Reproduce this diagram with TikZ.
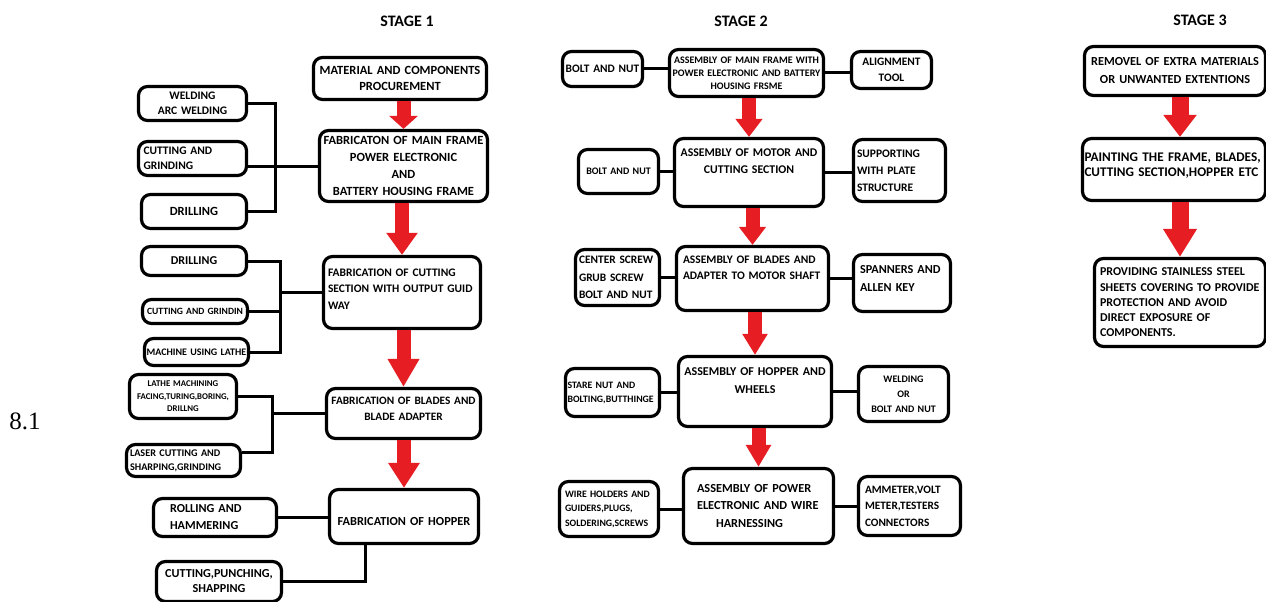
\documentclass[tikz,border=0pt]{standalone}
\usepackage{fontspec}
\setmainfont{Carlito}
\newfontfamily\numfont{Liberation Serif}
\usetikzlibrary{arrows.meta}
\definecolor{arrowred}{RGB}{230,30,36}
\newcommand{\lift}[1]{\\[#1]\mbox{}}
\newcommand{\fs}[2]{\bfseries\fontsize{#1}{#2}\selectfont}
\tikzset{
  stepbox/.style={draw, line width=3.2pt, rounded corners=9pt, inner xsep=2pt, inner ysep=1pt},
  pad/.style={align=left, execute at begin node={\leftskip=#1\relax}},
  link/.style={line width=3pt},
  flow/.style={draw=arrowred, line width=14pt},
  stagelabel/.style={font=\fs{16}{16}}
}

\begin{document}
\begin{tikzpicture}[x=1pt, y=-1pt]
\useasboundingbox (0,0) rectangle (1266,602);

% stage titles
\node[stagelabel] (stage1) at (407,21) {STAGE 1};
\node[stagelabel] (stage2) at (741,21) {STAGE 2};
\node[stagelabel] (stage3) at (1200,20) {STAGE 3};
\node[font=\numfont\fontsize{25}{25}\selectfont] (secnum) at (25,421) {8.1};

% stage 1: main steps
\node[stepbox, font=\fs{12.5}{16.5}, minimum width=173pt, minimum height=42pt, text width=169pt, align=center] (mat) at (400,78.5) {MATERIAL AND COMPONENTS\\PROCUREMENT};
\node[stepbox, font=\fs{12.5}{17}, minimum width=164pt, minimum height=71pt, text width=164pt, align=center] (fab1) at (403.5,166) {FABRICATON OF MAIN FRAME\\POWER ELECTRONIC\\AND\\BATTERY HOUSING FRAME};
\node[stepbox, font=\fs{11.5}{16.5}, pad=2.5pt, minimum width=157pt, minimum height=72pt, text width=153pt] (fab2) at (402,292.5) {FABRICATION OF CUTTING\\SECTION WITH OUTPUT GUID\\WAY\lift{-9pt}};
\node[stepbox, font=\fs{11.3}{16}, minimum width=154pt, minimum height=50pt, text width=150pt, align=center] (fab3) at (403.5,413.5) {FABRICATION OF BLADES AND\\BLADE ADAPTER\lift{-7pt}};
\node[stepbox, font=\fs{12.3}{15}, minimum width=149pt, minimum height=54pt, text width=145pt, align=center] (hop1) at (404,516.5) {\mbox{}\\[4pt]FABRICATION OF HOPPER};

% stage 1: tools
\node[stepbox, font=\fs{11.5}{14.5}, minimum width=108pt, minimum height=34pt, text width=104pt, align=center] (weld) at (192.5,103.5) {WELDING\\ARC WELDING};
\node[stepbox, font=\fs{11.5}{15}, pad=3pt, minimum width=108pt, minimum height=34pt, text width=104pt] (cutg) at (192.5,158.5) {CUTTING AND\\GRINDING};
\node[stepbox, font=\fs{12.5}{16}, minimum width=105pt, minimum height=34pt, text width=101pt, align=center] (drill1) at (194,211.5) {DRILLING};
\node[stepbox, font=\fs{12}{14}, minimum width=105pt, minimum height=29pt, text width=101pt, align=center] (drill2) at (194,261) {DRILLING};
\node[stepbox, font=\fs{9.6}{12}, minimum width=103pt, minimum height=24pt, text width=101pt, align=center] (cutg2) at (195,311.5) {CUTTING AND GRINDIN};
\node[stepbox, font=\fs{10}{12}, minimum width=100pt, minimum height=27pt, text width=100pt, align=center] (lathe1) at (196.5,352) {MACHINE USING LATHE};
\node[stepbox, font=\fs{8.8}{12.5}, minimum width=107pt, minimum height=44pt, text width=103pt, align=center] (lathe2) at (183,396.5) {LATHE MACHINING\\FACING,TURING,BORING,\\DRILLNG};
\node[stepbox, font=\fs{10.2}{14}, pad=1.5pt, minimum width=114pt, minimum height=32pt, text width=110pt] (laser) at (183.5,460.5) {LASER CUTTING AND\\SHARPING,GRINDING};
\node[stepbox, font=\fs{12.2}{17}, pad=14.5pt, minimum width=123pt, minimum height=38pt, text width=119pt] (roll) at (215,517.5) {ROLLING AND\\HAMMERING};
\node[stepbox, font=\fs{12.2}{15}, minimum width=125pt, minimum height=40pt, text width=121pt, align=center] (cps) at (219,581.5) {CUTTING,PUNCHING,\\SHAPPING};

\coordinate (j1) at (275,0);
\coordinate (j2) at (280,0);
\coordinate (j3) at (272,0);

\draw[flow, -{Triangle[length=13pt,width=28pt]}] (mat.south -| fab1.north) -- (fab1.north);
\draw[flow, -{Triangle[length=22pt,width=30pt]}] (fab1.south -| fab2.north) -- (fab2.north);
\draw[flow, -{Triangle[length=28pt,width=30pt]}] (fab2.south -| fab3.north) -- (fab3.north);
\draw[flow, -{Triangle[length=25pt,width=30pt]}] (fab3.south -| hop1.north) -- (hop1.north);

\draw[link] (weld.east) -- (weld.east -| j1) -- (drill1.east -| j1) -- (drill1.east);
\draw[link] (fab1.west) -- (fab1.west -| cutg.east);
\draw[link] (drill2.east) -- (drill2.east -| j2) -- (lathe1.east -| j2) -- (lathe1.east);
\draw[link] (cutg2.east) -- (cutg2.east -| j2);
\draw[link] (fab2.west) -- (fab2.west -| j2);
\draw[link] (lathe2.east) -- (lathe2.east -| j3) -- ([yshift=8.5pt]laser.east -| j3) -- ([yshift=8.5pt]laser.east);
\draw[link] (fab3.west) -- (fab3.west -| j3);
\draw[link] (roll.east) -- (roll.east -| hop1.west);
\draw[link] ([xshift=-39pt]hop1.south) |- (cps.east);

% stage 2: assembly
\node[stepbox, font=\fs{10}{13}, minimum width=154pt, minimum height=47pt, text width=150pt, align=center] (amf) at (746.5,73) {ASSEMBLY OF MAIN FRAME WITH\\POWER ELECTRONIC AND BATTERY\\HOUSING FRSME};
\node[stepbox, font=\fs{11.8}{17}, minimum width=149pt, minimum height=68pt, text width=145pt, align=center] (amc) at (749,172.5) {ASSEMBLY OF MOTOR AND\\CUTTING SECTION\lift{5pt}};
\node[stepbox, font=\fs{11.5}{16}, pad=4.5pt, minimum width=152pt, minimum height=64pt, text width=148pt] (aba) at (752.5,278.5) {ASSEMBLY OF BLADES AND\\ADAPTER TO MOTOR SHAFT\lift{5pt}};
\node[stepbox, font=\fs{12}{17.5}, minimum width=153pt, minimum height=70pt, text width=149pt, align=center] (ahw) at (755,391.5) {ASSEMBLY OF HOPPER AND\\WHEELS\lift{4.5pt}};
\node[stepbox, font=\fs{12.3}{17.5}, pad=11.5pt, minimum width=150pt, minimum height=75pt, text width=146pt] (ape) at (758.5,506) {ASSEMBLY OF POWER\\ELECTRONIC AND WIRE\\\hspace*{19pt}HARNESSING};

\node[stepbox, font=\fs{11.4}{14}, minimum width=76pt, minimum height=35pt, text width=76pt, align=center] (bn1) at (602.5,69) {BOLT AND NUT};
\node[stepbox, font=\fs{11.4}{16}, minimum width=80pt, minimum height=37pt, text width=76pt, align=center] (tool) at (891.5,70) {ALIGNMENT\\TOOL};
\node[stepbox, font=\fs{10}{12}, minimum width=80pt, minimum height=44pt, text width=76pt, align=center] (bn2) at (618.5,171.5) {BOLT AND NUT};
\node[stepbox, font=\fs{11.5}{17}, pad=1.5pt, minimum width=92pt, minimum height=62pt, text width=88pt] (sup) at (899.5,170.5) {SUPPORTING\\WITH PLATE\\STRUCTURE};
\node[stepbox, font=\fs{11.4}{17.5}, pad=1.5pt, minimum width=82pt, minimum height=56pt, text width=80pt] (csg) at (617.5,277.5) {CENTER SCREW\\GRUB SCREW\\BOLT AND NUT};
\node[stepbox, font=\fs{12.2}{18}, pad=4.5pt, minimum width=97pt, minimum height=57pt, text width=93pt] (span) at (902,283) {SPANNERS AND\\ALLEN KEY\lift{-8pt}};
\node[stepbox, font=\fs{9.8}{14}, pad=0pt, minimum width=92pt, minimum height=48pt, text width=90pt] (stn) at (612.5,392.5) {STARE NUT AND\\BOLTING,BUTTHINGE};
\node[stepbox, font=\fs{10}{15}, minimum width=90pt, minimum height=55pt, text width=86pt, align=center] (wob) at (903.5,394) {WELDING\\OR\\BOLT AND NUT};
\node[stepbox, font=\fs{9.8}{14.5}, pad=3.5pt, minimum width=99pt, minimum height=55pt, text width=95pt] (whg) at (609,509) {WIRE HOLDERS AND\\GUIDERS,PLUGS,\\SOLDERING,SCREWS};
\node[stepbox, font=\fs{11.3}{16.5}, pad=4.5pt, minimum width=102pt, minimum height=59pt, text width=98pt] (amm) at (909.5,506) {AMMETER,VOLT\\METER,TESTERS\\CONNECTORS};

\draw[flow, -{Triangle[length=18pt,width=26pt]}] (amf.south -| amc.north) -- (amc.north);
\draw[flow, -{Triangle[length=18pt,width=26pt]}] (amc.south -| aba.north) -- (aba.north);
\draw[flow, -{Triangle[length=21pt,width=24pt]}] (aba.south -| ahw.north) -- (ahw.north);
\draw[flow, -{Triangle[length=22pt,width=24pt]}] (ahw.south -| ape.north) -- (ape.north);

\draw[link] (bn1.east) -- (bn1.east -| amf.west);
\draw[link] (amf.east) -- (amf.east -| tool.west);
\draw[link] (bn2.east) -- (bn2.east -| amc.west);
\draw[link] (amc.east) -- (amc.east -| sup.west);
\draw[link] (csg.east) -- (csg.east -| aba.west);
\draw[link] (aba.east) -- (aba.east -| span.west);
\draw[link] (stn.east) -- (stn.east -| ahw.west);
\draw[link] (ahw.east) -- (ahw.east -| wob.west);
\draw[link] (whg.east) -- (whg.east -| ape.west);
\draw[link] (ape.east) -- (ape.east -| amm.west);

% stage 3: finishing
\node[stepbox, font=\fs{12.3}{18}, minimum width=177pt, minimum height=49pt, text width=177pt, align=center] (rem) at (1175,71) {REMOVEL OF EXTRA MATERIALS\\OR UNWANTED EXTENTIONS};
\node[stepbox, font=\fs{13.2}{15.5}, pad=0pt, minimum width=179pt, minimum height=62pt, text width=179pt] (paint) at (1174,169.5) {PAINTING THE FRAME, BLADES,\\CUTTING SECTION,HOPPER ETC\lift{-5.5pt}};
\node[stepbox, font=\fs{12}{15.3}, pad=3.5pt, minimum width=167pt, minimum height=88pt, text width=167pt] (prov) at (1180,302.5) {PROVIDING STAINLESS STEEL\\SHEETS COVERING TO PROVIDE\\PROTECTION AND AVOID\\DIRECT EXPOSURE OF\\COMPONENTS.};

\draw[flow, line width=17pt, -{Triangle[length=22pt,width=32pt]}] (rem.south -| prov.north) -- (paint.north -| prov.north);
\draw[flow, line width=17pt, -{Triangle[length=28pt,width=32pt]}] (paint.south -| prov.north) -- (prov.north);
\end{tikzpicture}
\end{document}
